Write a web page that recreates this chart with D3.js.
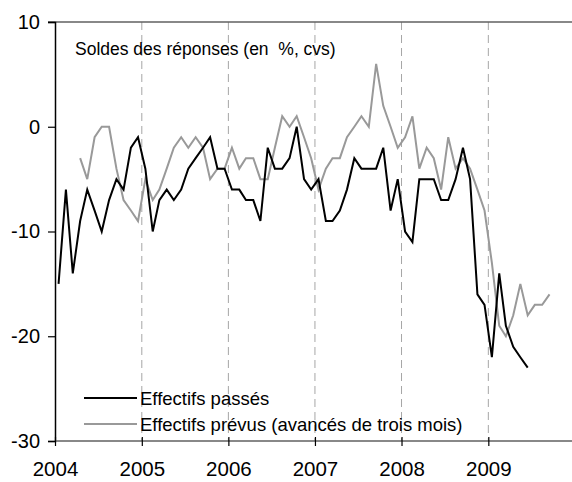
<!DOCTYPE html>
<html>
<head>
<meta charset="utf-8">
<script src="https://cdn.jsdelivr.net/npm/d3@7"></script>
<style>
  body { margin: 0; background: #fff; }
  text { font-family: "Liberation Sans", Arial, sans-serif; }
</style>
</head>
<body>
<script>
// monthly data, Jan 2004 onwards
var startYear = 2004;
var years = [2004, 2005, 2006, 2007, 2008, 2009];
var yTicks = [10, 0, -10, -20, -30];

// Effectifs passés (starts Jan 2004)
var passes = [-15, -6, -14, -9, -6, -8, -10, -7, -5, -6, -2, -1,
              -4, -10, -7, -6, -7, -6, -4, -3, -2, -1, -4, -4,
              -6, -6, -7, -7, -9, -2, -4, -4, -3, 0, -5, -6,
              -5, -9, -9, -8, -6, -3, -4, -4, -4, -2, -8, -5,
              -10, -11, -5, -5, -5, -7, -7, -5, -2, -5, -16, -17,
              -22, -14, -19, -21, -22, -23];

// Effectifs prévus, avancés de trois mois (starts Apr 2004)
var prevusStart = 3;
var prevus = [-3, -5, -1, 0, 0, -4, -7, -8, -9,
              -5, -7, -6, -4, -2, -1, -2, -1, -2, -5, -4, -4,
              -2, -4, -3, -3, -5, -5, -2, 1, 0, 1, -1, -3,
              -6, -4, -3, -3, -1, 0, 1, 0, 6, 2, 0, -2,
              -1, 1, -4, -2, -3, -6, -1, -4, -3, -4, -6, -8,
              -13, -19, -20, -18, -15, -18, -17, -17, -16];

var legendLabels = ["Effectifs passés", "Effectifs prévus (avancés de trois mois)"];
var colors = ["#000000", "#999999"];

var width = 572, height = 482;
var plotLeft = 55, plotRight = 572, plotTop = 22, plotBottom = 441;

var svg = d3.select("body").append("svg")
    .attr("width", width)
    .attr("height", height);

var x = d3.scaleUtc()
    .domain([new Date(Date.UTC(startYear, 0, 1)), new Date(Date.UTC(startYear + 6, 0, 1))])
    .range([plotLeft, plotLeft + 6 * 86.65]);

var y = d3.scaleLinear().domain([-30, 10]).range([plotBottom, plotTop]);

function monthDate(i) {
    return new Date(Date.UTC(startYear, i, 16));
}

// dashed year lines
svg.selectAll("line.grid")
    .data(years.slice(1))
    .enter().append("line")
    .attr("class", "grid")
    .attr("x1", function(d) { return x(new Date(Date.UTC(d, 0, 1))); })
    .attr("x2", function(d) { return x(new Date(Date.UTC(d, 0, 1))); })
    .attr("y1", plotTop)
    .attr("y2", plotBottom)
    .attr("stroke", "#a6a6a6")
    .attr("stroke-width", 1)
    .attr("stroke-dasharray", "8,5");

// top frame line
svg.append("line")
    .attr("x1", plotLeft - 7).attr("x2", plotRight)
    .attr("y1", y(10)).attr("y2", y(10))
    .attr("stroke", "#606060").attr("stroke-width", 1.5);

// y axis
var yAxis = svg.append("g")
    .attr("transform", "translate(" + plotLeft + ",0)")
    .call(d3.axisLeft(y).tickValues(yTicks)
        .tickFormat(function(d) { return String(d); })  // plain hyphen like the original
        .tickSize(7).tickPadding(8));
yAxis.select(".domain").attr("stroke", "#000").attr("stroke-width", 1.5);
yAxis.selectAll(".tick line").attr("stroke", "#000").attr("stroke-width", 1.2);
yAxis.selectAll(".tick text")
    .attr("font-size", 20)
    .attr("fill", "#000")
    .style("font-family", "'Liberation Sans', Arial, sans-serif");

// x axis
var xAxis = svg.append("g")
    .attr("transform", "translate(0," + plotBottom + ")")
    .call(d3.axisBottom(x)
        .tickValues(years.map(function(d) { return new Date(Date.UTC(d, 0, 1)); }))
        .tickFormat(d3.utcFormat("%Y"))
        .tickSize(5).tickPadding(15));
xAxis.select(".domain").attr("d", "M" + plotLeft + ",0H" + plotRight)
    .attr("stroke", "#606060").attr("stroke-width", 1.5);
xAxis.selectAll(".tick line").attr("y1", -4).attr("stroke", "#000").attr("stroke-width", 1.2);
xAxis.selectAll(".tick text")
    .attr("font-size", 20.5)
    .attr("fill", "#000")
    .style("font-family", "'Liberation Sans', Arial, sans-serif");

// series lines
var line = d3.line()
    .x(function(d) { return x(monthDate(d.i)); })
    .y(function(d) { return y(d.v); });

var passesData = passes.map(function(v, i) { return { i: i, v: v }; });
var prevusData = prevus.map(function(v, i) { return { i: i + prevusStart, v: v }; });

svg.append("path")
    .datum(prevusData)
    .attr("d", line)
    .attr("fill", "none")
    .attr("stroke", colors[1])
    .attr("stroke-width", 2)
    .attr("stroke-linejoin", "miter");

svg.append("path")
    .datum(passesData)
    .attr("d", line)
    .attr("fill", "none")
    .attr("stroke", colors[0])
    .attr("stroke-width", 2)
    .attr("stroke-linejoin", "miter");

// title
svg.append("text")
    .attr("x", 75)
    .attr("y", 55)
    .attr("font-size", 17.5)
    .attr("fill", "#000")
    .style("white-space", "pre")
    .text("Soldes des réponses (en  %, cvs)");

// legend
var legend = svg.selectAll("g.legend")
    .data(legendLabels)
    .enter().append("g")
    .attr("class", "legend")
    .attr("transform", function(d, i) { return "translate(84," + (398 + i * 26) + ")"; });

legend.append("line")
    .attr("x1", 0).attr("x2", 53)
    .attr("y1", 0).attr("y2", 0)
    .attr("stroke", function(d, i) { return colors[i]; })
    .attr("stroke-width", 2);

legend.append("text")
    .attr("x", 56)
    .attr("y", 6.5)
    .attr("font-size", 18.5)
    .attr("fill", "#000")
    .text(function(d) { return d; });
</script>
</body>
</html>
